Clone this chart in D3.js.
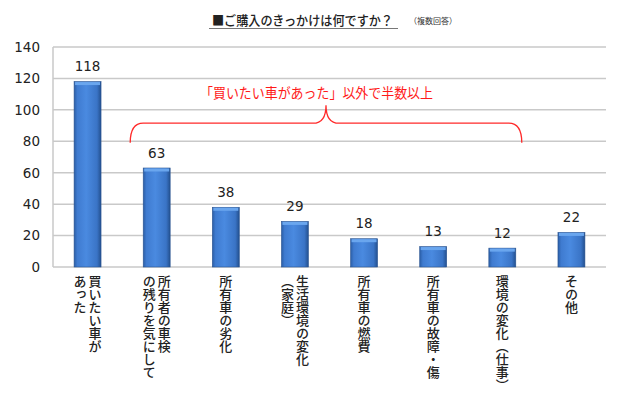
<!DOCTYPE html>
<html>
<head>
<meta charset="utf-8">
<script src="https://cdn.jsdelivr.net/npm/d3@7"></script>
<style>
  body { margin: 0; background: #fff; }
  svg { display: block; }
</style>
</head>
<body>
<div id="chart"></div>
<script>
const categories = [
    "買いたい車が\nあった",
    "所有者の車検\nの残りを気にして",
    "所有車の劣化",
    "生活環境の変化\n（家庭）",
    "所有車の燃費",
    "所有車の故障・傷",
    "環境の変化（仕事）",
    "その他"
];
const values = [118, 63, 38, 29, 18, 13, 12, 22];
const yTicks = [0, 20, 40, 60, 80, 100, 120, 140];
const titleText = "■ご購入のきっかけは何ですか？";
const noteText = "（複数回答）";
const calloutText = "「買いたい車があった」以外で半数以上";

const width = 640, height = 400;
const jp = "'Noto Sans CJK JP', 'Noto Sans', sans-serif";
const num = "'DejaVu Sans', Verdana, sans-serif";

const svg = d3.select("#chart").append("svg")
    .attr("width", width)
    .attr("height", height);

const x = d3.scaleBand()
    .domain(categories)
    .range([53, 606])
    .paddingInner(0.61)
    .paddingOuter(0.305);

const y = d3.scaleLinear()
    .domain([0, 140])
    .range([267, 47]);

// bar gradient
const defs = svg.append("defs");
const grad = defs.append("linearGradient")
    .attr("id", "barGrad")
    .attr("x1", "0%").attr("x2", "100%")
    .attr("y1", "0%").attr("y2", "0%");
grad.append("stop").attr("offset", "0%").attr("stop-color", "#2b5ea6");
grad.append("stop").attr("offset", "12%").attr("stop-color", "#3f7bd0");
grad.append("stop").attr("offset", "45%").attr("stop-color", "#4a8ae0");
grad.append("stop").attr("offset", "85%").attr("stop-color", "#3a74c6");
grad.append("stop").attr("offset", "100%").attr("stop-color", "#23508f");

// gridlines
svg.append("g")
    .selectAll("line")
    .data(yTicks)
    .enter()
    .append("line")
    .attr("x1", x.range()[0])
    .attr("x2", x.range()[1])
    .attr("y1", d => y(d))
    .attr("y2", d => y(d))
    .attr("stroke", "#c9c9c9")
    .attr("stroke-width", 1.5);

// left axis line
svg.append("line")
    .attr("x1", x.range()[0]).attr("x2", x.range()[0])
    .attr("y1", y(140)).attr("y2", y(0))
    .attr("stroke", "#c9c9c9")
    .attr("stroke-width", 1.5);

// y axis labels
const yAxis = d3.axisLeft(y).tickValues(yTicks).tickSize(0).tickPadding(13);
const yG = svg.append("g")
    .attr("transform", "translate(" + x.range()[0] + ",0)")
    .call(yAxis);
yG.select(".domain").remove();
yG.selectAll("text")
    .attr("font-family", num)
    .attr("font-size", 13.5)
    .attr("fill", "#222");

// bars
const bars = svg.append("g")
    .selectAll("g")
    .data(values)
    .enter()
    .append("g");

bars.append("rect")
    .attr("x", (d, i) => x(categories[i]))
    .attr("y", d => y(d))
    .attr("width", x.bandwidth())
    .attr("height", d => y(0) - y(d))
    .attr("fill", "url(#barGrad)")
    .attr("stroke", "#2a5490")
    .attr("stroke-width", 0.6);

// top bevel
bars.append("rect")
    .attr("x", (d, i) => x(categories[i]) + 1)
    .attr("y", d => y(d) + 0.5)
    .attr("width", x.bandwidth() - 2)
    .attr("height", 3)
    .attr("fill", "#6aa6ee");

// value labels
bars.append("text")
    .attr("x", (d, i) => x(categories[i]) + x.bandwidth() / 2)
    .attr("y", d => y(d) - 10.5)
    .attr("text-anchor", "middle")
    .attr("font-family", num)
    .attr("font-size", 13.5)
    .attr("fill", "#222")
    .text(d => d);

// category labels, vertical, first line on the right
const labels = svg.append("g")
    .selectAll("g")
    .data(categories)
    .enter()
    .append("g");

labels.each(function(d) {
    const lines = d.split("\n");
    const cx = x(d) + x.bandwidth() / 2;
    const colW = 15;
    const offset = (lines.length - 1) * colW / 2;
    d3.select(this).selectAll("text")
        .data(lines)
        .enter()
        .append("text")
        .attr("x", (t, j) => cx + offset - j * colW)
        .attr("y", 275)
        .attr("writing-mode", "vertical-rl")
        .attr("text-anchor", "start")
        .attr("font-family", jp)
        .attr("font-size", 13)
        .attr("font-weight", 500)
        .attr("fill", "#222")
        .text(t => t);
});

// title
svg.append("text")
    .attr("x", 212)
    .attr("y", 25)
    .attr("font-family", jp)
    .attr("font-size", 13)
    .attr("font-weight", 500)
    .attr("fill", "#222")
    .attr("textLength", 181)
    .attr("lengthAdjust", "spacingAndGlyphs")
    .text(titleText);
svg.append("line")
    .attr("x1", 209).attr("x2", 398)
    .attr("y1", 28.5).attr("y2", 28.5)
    .attr("stroke", "#777")
    .attr("stroke-width", 1.2);
svg.append("text")
    .attr("x", 409)
    .attr("y", 24)
    .attr("font-family", jp)
    .attr("font-size", 8)
    .attr("fill", "#333")
    .text(noteText);

// red callout with brace
const bx0 = x(categories[1]) - 13;
const bx1 = x(categories[6]) + x.bandwidth() + 6;
const bm = (bx0 + bx1) / 2;
const yEnd = y(79), yMid = y(91.5), yPeak = y(103);
const r = 13;
const brace = d3.path();
brace.moveTo(bx0, yEnd);
brace.quadraticCurveTo(bx0, yMid, bx0 + r, yMid);
brace.lineTo(bm - r, yMid);
brace.quadraticCurveTo(bm, yMid, bm, yPeak);
brace.quadraticCurveTo(bm, yMid, bm + r, yMid);
brace.lineTo(bx1 - r, yMid);
brace.quadraticCurveTo(bx1, yMid, bx1, yEnd);

svg.append("path")
    .attr("d", brace.toString())
    .attr("fill", "none")
    .attr("stroke", "#ff2a2a")
    .attr("stroke-width", 1.3);

svg.append("text")
    .attr("x", 200)
    .attr("y", y(111) + 5)
    .attr("font-family", jp)
    .attr("font-size", 14)
    .attr("fill", "#ff1a1a")
    .attr("textLength", 233)
    .attr("lengthAdjust", "spacingAndGlyphs")
    .text(calloutText);
</script>
</body>
</html>
